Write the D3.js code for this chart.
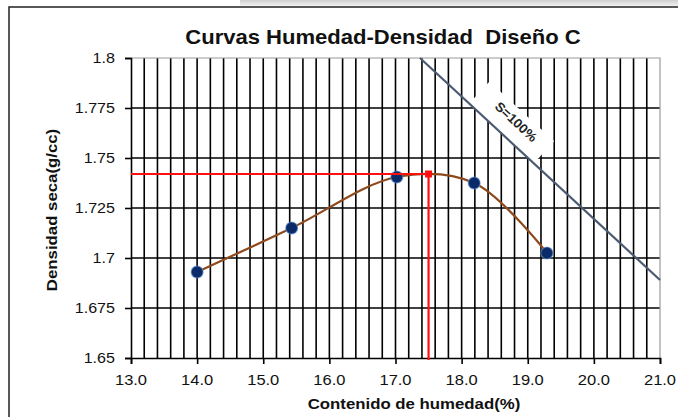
<!DOCTYPE html>
<head>
<meta charset="utf-8">
<title>Curvas Humedad-Densidad</title>
<script src="https://cdn.jsdelivr.net/npm/d3@7"></script>
<style>
  body { margin: 0; background: #fff; }
  text { font-family: "Liberation Sans", Arial, sans-serif; fill: #111; white-space: pre; }
  .grid { stroke: #000; stroke-width: 1.6px; }
</style>
</head>
<body>
<div id="chart"></div>
<script>
// datos
var humedad = [14.0, 15.43, 17.02, 18.19, 19.29];
var densidad = [1.693, 1.715, 1.7405, 1.7375, 1.7025];
var satHumedad = [17.37, 21.0];
var satDensidad = [1.8, 1.689];
var humedadOpt = 17.5, densidadMax = 1.742;
var xTicks = [13, 14, 15, 16, 17, 18, 19, 20, 21];
var yTicks = [1.65, 1.675, 1.7, 1.725, 1.75, 1.775, 1.8];
var titulo = "Curvas Humedad-Densidad  Diseño C";
var tituloX = "Contenido de humedad(%)";
var tituloY = "Densidad seca(g/cc)";
var etiquetaSat = "S=100%";

var width = 678, height = 417;
var svg = d3.select("#chart").append("svg")
    .attr("width", width).attr("height", height);

var x = d3.scaleLinear().domain([13, 21]).range([131, 660]);
var y = d3.scaleLinear().domain([1.65, 1.8]).range([358, 58]);

// texto algo ensanchado como en la imagen
function label(txt, px, py, rot, sx, size, weight, anchor) {
  return svg.append("text")
    .attr("xml:space", "preserve")
    .attr("transform", "translate(" + px + "," + py + ") rotate(" + rot + ") scale(" + sx + ",1)")
    .attr("text-anchor", anchor || "middle")
    .style("font-size", size + "px")
    .style("font-weight", weight || "normal")
    .text(txt);
}

// franja gris superior y marco
var grad = svg.append("defs").append("linearGradient").attr("id", "gr")
    .attr("x1", 0).attr("x2", 0).attr("y1", 0).attr("y2", 1);
grad.append("stop").attr("offset", 0).attr("stop-color", "#cfcfcf");
grad.append("stop").attr("offset", 1).attr("stop-color", "#f2f2f2");
svg.append("rect").attr("x", 240).attr("y", 0).attr("width", 438).attr("height", 6).attr("fill", "url(#gr)");
svg.append("rect").attr("x", 9).attr("y", 7).attr("width", 720).attr("height", 450)
    .attr("fill", "#fff").attr("stroke", "#222").attr("stroke-width", 1.5);

// rejilla
var xMinor = d3.range(0, 41).map(function(i) { return 13 + i * 0.2; });
svg.append("g").selectAll("line").data(xMinor.slice(1, 40)).enter().append("line")
    .attr("class", "grid")
    .attr("x1", function(d) { return x(d); }).attr("x2", function(d) { return x(d); })
    .attr("y1", y(1.8)).attr("y2", y(1.65));
svg.append("g").selectAll("line").data(yTicks.slice(1, 6)).enter().append("line")
    .attr("class", "grid")
    .attr("x1", x(13)).attr("x2", x(21))
    .attr("y1", function(d) { return y(d); }).attr("y2", function(d) { return y(d); });
// borde superior / derecho gris
svg.append("path")
    .attr("d", "M" + x(13) + "," + y(1.8) + "H" + x(21) + "V" + y(1.65))
    .attr("fill", "none").attr("stroke", "#9a9a9a").attr("stroke-width", 1.2);

// ejes
var xAxis = svg.append("g").attr("transform", "translate(0," + y(1.65) + ")")
    .call(d3.axisBottom(x).tickValues(xTicks).tickSize(6).tickFormat(""));
var yAxis = svg.append("g").attr("transform", "translate(" + x(13) + ",0)")
    .call(d3.axisLeft(y).tickValues(yTicks).tickSize(6).tickFormat(""));
[xAxis, yAxis].forEach(function(a) {
  a.select(".domain").attr("stroke", "#000").attr("stroke-width", 1.6);
  a.selectAll(".tick line").attr("stroke", "#000").attr("stroke-width", 1.6);
});
xTicks.forEach(function(t) {
  label(d3.format(".1f")(t), x(t), 385, 0, 1.1, 15);
});
yTicks.forEach(function(t) {
  label(String(t), 115, y(t) + 5, 0, 1.15, 14, "normal", "end");
});

// linea de saturacion S=100%
var ang = Math.atan2(y(satDensidad[1]) - y(satDensidad[0]), x(satHumedad[1]) - x(satHumedad[0])) * 180 / Math.PI;
var cx = 513, cy = 121;
svg.append("rect")
    .attr("transform", "translate(" + cx + "," + cy + ") rotate(" + ang + ")")
    .attr("x", -44).attr("y", -13).attr("width", 88).attr("height", 30)
    .attr("fill", "#fff");
svg.append("line")
    .attr("x1", x(satHumedad[0])).attr("y1", y(satDensidad[0]))
    .attr("x2", x(satHumedad[1])).attr("y2", y(satDensidad[1]))
    .attr("stroke", "#4b5b73").attr("stroke-width", 2.2);
label(etiquetaSat, cx, cy + 4, ang, 1.05, 13, "bold").style("fill", "#222");

// curva
var pts = humedad.map(function(h, i) { return [h, densidad[i]]; });
var line = d3.line().x(function(d) { return x(d[0]); }).y(function(d) { return y(d[1]); })
    .curve(d3.curveCatmullRom.alpha(0.5));
svg.append("path").datum(pts).attr("d", line)
    .attr("fill", "none").attr("stroke", "#8e4a1c").attr("stroke-width", 2.2);
svg.append("g").selectAll("circle").data(pts).enter().append("circle")
    .attr("cx", function(d) { return x(d[0]); }).attr("cy", function(d) { return y(d[1]); })
    .attr("r", 6).attr("fill", "#0a2a68")
    .attr("stroke", "#5d8fd0").attr("stroke-opacity", 0.6).attr("stroke-width", 1.2);

// optimo
svg.append("path")
    .attr("d", "M" + x(13) + "," + y(densidadMax) + "H" + x(humedadOpt) + "V" + (y(1.65) + 2))
    .attr("fill", "none").attr("stroke", "#ff1010").attr("stroke-width", 2.2);
svg.append("rect")
    .attr("x", x(humedadOpt) - 3.5).attr("y", y(densidadMax) - 3.5)
    .attr("width", 7).attr("height", 7).attr("fill", "#ff1010");

// titulos
label(titulo, 383, 44, 0, 1.05, 21, "bold");
label(tituloX, 414, 409, 0, 1.12, 15, "bold");
label(tituloY, 57, 210, -90, 1.12, 15, "bold");
</script>
</body>
</html>
